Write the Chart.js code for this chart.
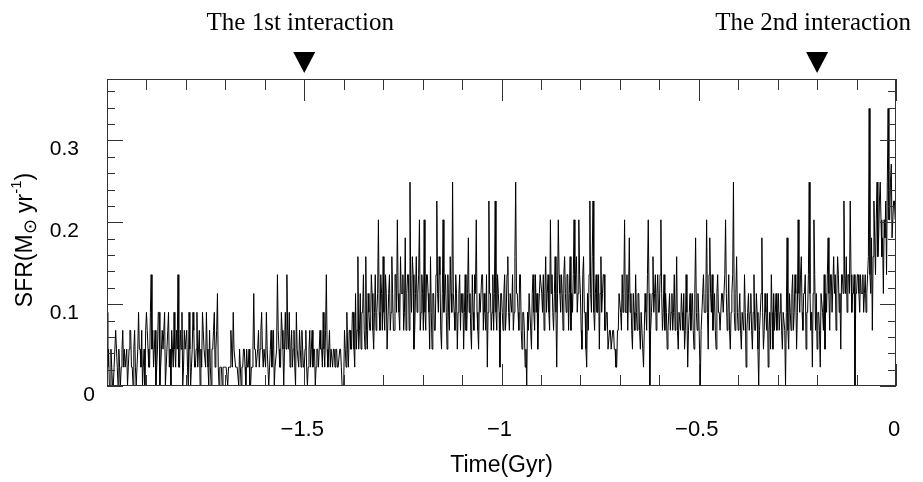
<!DOCTYPE html>
<html>
<head>
<meta charset="utf-8">
<script src="https://cdn.jsdelivr.net/npm/chart.js@4.4.1/dist/chart.umd.min.js"></script>
<style>
  html, body { margin: 0; padding: 0; background: #fff; }
</style>
</head>
<body>
<canvas id="sfr_chart" width="923" height="482"></canvas>
<script>
const timeStart = -2;
const timeEnd = 0;
const sfr = [
  .09,.023,.045,0,0,.045,.023,0,0,.023,.023,.068,.045,.023,0,.045,.023,0,.023,.045,.068,.023,.045,.023,.023,.045,0,.023,.045,.068,.068,.023,.023,0,.045,.068,.023,0,0,.045,.09,.045,.045,.023,.068,0,.023,.045,0,.068,
  .09,.068,.045,.023,.023,.09,.136,.045,.068,.023,.045,.068,0,.023,.045,.09,.09,0,.023,.045,.068,.045,.045,.09,0,.023,.023,.068,.09,.023,.045,0,.068,.045,.023,.09,.045,.023,.068,.045,.136,.023,.023,.068,.045,.09,0,.023,.068,.045,
  .045,.068,.023,0,.09,.045,0,.023,.045,.09,.068,.023,.023,.045,.09,.023,.045,.068,0,.045,.023,.09,.068,.045,.045,.023,.09,.045,.023,0,.068,.023,0,.045,.045,.068,.09,.023,.045,.068,.113,.023,0,.023,.023,.023,0,.023,.023,.023,
  .023,.023,.023,0,.023,.023,.023,.068,.045,.023,.09,.045,.045,.023,.023,.023,.023,0,.045,.023,0,.023,.023,.045,.045,.023,0,.045,.023,.023,.045,0,0,.023,.023,.045,.113,.045,.045,.023,.023,.045,.068,.023,.045,.068,.09,.045,.023,.045,
  .045,.023,.09,.045,.045,0,.023,.045,.068,.023,.045,.068,0,.023,.023,.045,.136,.068,.045,.023,.023,.09,.068,.045,0,.045,.09,.045,.136,.068,.045,.09,.023,.045,.068,.023,.045,.068,.023,0,.09,.045,.045,.023,.068,.045,.023,.068,.045,.023,
  .023,.045,.068,.023,0,.023,.045,.068,.023,.045,.068,.023,.045,.045,0,.023,.045,.045,.023,.045,.068,.045,.045,.023,.09,.045,.023,.068,.136,.045,.023,.045,.068,.023,.045,.045,.023,.045,.045,.023,.045,.045,.023,.023,.023,.045,.045,.023,0,0,
  0,.068,.045,.023,.09,.045,.023,.068,.068,.045,.045,.09,.09,.045,.023,.113,.045,.068,.158,.045,.068,.113,.045,.09,.09,.136,.068,.045,.158,.068,.045,.113,.09,.068,.068,.136,.113,.068,.045,.09,.136,.068,.09,.113,.203,.09,.068,.136,.113,.068,
  .158,.09,.068,.136,.113,.045,.045,.113,.136,.068,.09,.158,.113,.068,.068,.136,.136,.09,.203,.113,.09,.068,.158,.113,.113,.136,.068,.09,.181,.068,.113,.136,.136,.068,.249,.113,.09,.158,.136,.045,.068,.113,.158,.09,.113,.136,.203,.068,.09,.136,
  .113,.068,.203,.09,.068,.136,.136,.113,.09,.045,.158,.09,.045,.113,.113,.068,.068,.136,.226,.113,.09,.158,.136,.068,.045,.113,.203,.09,.113,.136,.09,.045,.136,.09,.068,.158,.113,.09,.249,.113,.09,.068,.136,.113,.045,.09,.113,.136,.068,.113,
  .09,.113,.045,.09,.136,.068,.068,.113,.181,.09,.113,.068,.045,.136,.09,.068,.136,.113,.203,.09,.068,.045,.113,.09,.09,.136,.136,.068,.113,.09,.068,.136,.023,.09,.226,.113,.113,.068,.09,.136,.068,.113,.226,.09,.068,.136,.113,.09,.023,.113,
  .113,.09,.068,.113,.136,.068,.09,.136,.158,.09,.068,.113,.113,.09,.136,.068,.09,.158,.249,.113,.113,.09,.068,.136,.136,.068,.045,.09,.09,.068,.023,.045,0,.09,.068,.113,.113,.068,.045,.113,.136,.09,.068,.136,.09,.113,.045,.09,.113,.136,
  .136,.113,.09,.136,.068,.113,.158,.09,.113,.136,.09,.068,.203,.113,.136,.09,.068,.113,.158,.09,.023,.113,.203,.136,.113,.09,.136,.113,.068,.136,.158,.113,.09,.136,.136,.068,.113,.158,.068,.113,.09,.136,.203,.113,.136,.158,.09,.113,.203,.136,
  .113,.068,.045,.136,.158,.09,.09,.045,.023,.113,.068,.136,.226,.113,.09,.158,.226,.09,.068,.113,.136,.09,.09,.136,.045,.113,.158,.09,.113,.136,.136,.068,.068,.09,.09,.045,.045,.068,.068,.045,.045,.068,.068,.045,.045,.023,.023,.068,.068,.113,
  .113,.09,.068,.136,.09,.113,.203,.09,.09,.136,.068,.113,.181,.09,.113,.068,.045,.113,.09,.068,.136,.09,.068,.113,.113,.068,.045,.09,.09,.045,.023,.068,.113,.09,.068,.136,.203,.113,0,.068,.09,.113,.158,.09,.113,.136,.068,.113,.136,.09,
  .09,.136,.203,.113,.068,.09,.136,.068,.113,.09,.045,.068,.09,.113,.068,.09,.113,.068,.09,.136,.068,.09,.158,.068,.045,.09,.09,.068,.113,.09,.068,.113,.045,.068,.136,.09,.023,.068,.09,.113,.068,.09,.113,.068,.045,.113,.181,.09,.068,.113,
  .09,.045,0,.068,.068,.113,.136,.09,.09,.113,.203,.09,.045,.136,.181,.113,.09,.136,.068,.09,.113,.068,.045,.113,.136,.09,.09,.068,.068,.113,.113,.09,.09,.136,.203,.113,.068,.09,.136,.068,.045,.09,.113,.136,.249,.09,.068,.113,.158,.09,
  .068,.09,.113,.068,.045,.09,.09,.068,.136,.09,.023,.068,.09,.113,.068,.09,.113,.068,.045,.09,.136,.068,.068,.113,.09,.045,0,.068,.09,.113,.181,.09,.045,.068,.113,.09,.068,.113,.023,.068,.09,.045,.136,.09,.045,.113,.068,.09,.113,.068,
  .09,.113,.068,.09,.113,.068,.045,.09,.09,.068,0,.09,.181,.068,.045,.113,.09,.068,.113,.136,.068,.09,.136,.113,.045,.09,.203,.113,.09,.136,.158,.09,.068,.113,.113,.136,.045,.09,.09,.136,.249,.113,.068,.09,.023,.113,.203,.136,.068,.113,
  .045,.09,.09,.068,.023,.113,.113,.09,.068,.136,.045,.113,.09,.136,.181,.113,.068,.136,.136,.09,.09,.158,.113,.136,.068,.113,.158,.136,.09,.113,.045,.136,.136,.113,.226,.136,.113,.158,.09,.136,.136,.113,.226,.136,.09,.113,.113,.136,0,.113,
  .113,.136,.136,.113,.09,.136,.113,.113,.136,.09,.113,.136,.09,.113,.136,.158,.339,.136,.113,.181,.068,.158,.226,.181,.136,.203,.249,.158,.181,.226,.249,.203,.158,.181,.113,.203,.181,.226,.136,.249,.339,.203,.203,.249,.271,.181,.181,.226,.226,.203,
  .203
];
const xTickLabels = [-1.5, -1, -0.5, 0];
const yTickLabels = [0, 0.1, 0.2, 0.3];
const interactionTimes = [-1.5, -0.2];
const interactionNames = ["The 1st interaction", "The 2nd interaction"];

const sansFont = '"Liberation Sans", Arial, Helvetica, sans-serif';
const serifFont = '"Liberation Serif", "Times New Roman", serif';

// frame with inward ticks on all four sides, labels and the interaction markers
const frameAxes = {
    id: 'frameAxes',
    afterDraw(chart) {
        const { ctx, chartArea: a, scales: { x, y } } = chart;
        const seg = (x1, y1, x2, y2) => {
            ctx.beginPath();
            ctx.moveTo(x1, y1);
            ctx.lineTo(x2, y2);
            ctx.stroke();
        };
        ctx.save();
        ctx.strokeStyle = '#333';
        ctx.lineWidth = 1;
        ctx.strokeRect(a.left + 0.5, a.top + 0.5, a.right - a.left - 1, a.bottom - a.top - 1);

        for (let i = 0; i <= 20; i++) {
            const px = Math.round(x.getPixelForValue(-2 + i * 0.1)) + 0.5;
            const len = i % 5 === 0 ? 22 : 11;
            seg(px, a.bottom, px, a.bottom - len);
            seg(px, a.top, px, a.top + len);
        }
        for (let i = 0; i <= 18; i++) {
            const py = Math.round(y.getPixelForValue(i * 0.02)) + 0.5;
            const len = i % 5 === 0 ? 16 : 8;
            seg(a.left, py, a.left + len, py);
            seg(a.right, py, a.right - len, py);
        }

        ctx.fillStyle = '#000';
        ctx.font = '21px ' + sansFont;
        ctx.textBaseline = 'middle';
        ctx.textAlign = 'right';
        yTickLabels.forEach(v => {
            const py = y.getPixelForValue(v) + 9;
            ctx.fillText(String(v), v === 0 ? 95 : 79, py);
        });
        ctx.font = '22px ' + sansFont;
        ctx.textAlign = 'center';
        xTickLabels.forEach(v => {
            const label = String(v).replace('-', '\u2212');
            ctx.fillText(label, x.getPixelForValue(v) - 2, 430);
        });
        ctx.font = '23px ' + sansFont;
        ctx.fillText('Time(Gyr)', (a.left + a.right) / 2, 466);

        // rotated y title: SFR(M⊙ yr⁻¹)
        ctx.save();
        ctx.translate(26, 240);
        ctx.rotate(-Math.PI / 2);
        const parts = [
            { t: 'SFR(M', size: 23, dy: 0 },
            { t: '\u2299', size: 18, dy: 5 },
            { t: ' yr', size: 23, dy: 0 },
            { t: '-1', size: 15, dy: -9 },
            { t: ')', size: 23, dy: 0 }
        ];
        let total = 0;
        parts.forEach(p => {
            ctx.font = p.size + 'px ' + sansFont;
            p.w = ctx.measureText(p.t).width;
            total += p.w;
        });
        let cx = -total / 2;
        ctx.textAlign = 'left';
        parts.forEach(p => {
            ctx.font = p.size + 'px ' + sansFont;
            ctx.fillText(p.t, cx, p.dy);
            cx += p.w;
        });
        ctx.restore();

        ctx.font = '25px ' + serifFont;
        ctx.textAlign = 'center';
        ctx.textBaseline = 'alphabetic';
        interactionTimes.forEach((t, i) => {
            const px = x.getPixelForValue(t);
            ctx.fillText(interactionNames[i], px - 4, 30);
            ctx.beginPath();
            ctx.moveTo(px - 11, 52);
            ctx.lineTo(px + 11, 52);
            ctx.lineTo(px, 73);
            ctx.closePath();
            ctx.fill();
        });
        ctx.restore();
    }
};

const timeStep = (timeEnd - timeStart) / (sfr.length - 1);
const points = sfr.map((v, i) => ({ x: timeStart + i * timeStep, y: v }));

new Chart(document.getElementById('sfr_chart'), {
    type: 'line',
    data: {
        datasets: [{
            label: 'SFR',
            data: points,
            borderColor: '#000',
            borderWidth: 1,
            pointRadius: 0,
            tension: 0,
            fill: false
        }]
    },
    options: {
        responsive: false,
        animation: false,
        layout: { padding: { left: 107, right: 27, top: 79, bottom: 96 } },
        plugins: {
            legend: { display: false },
            tooltip: { enabled: false }
        },
        scales: {
            x: { type: 'linear', min: timeStart, max: timeEnd, display: false },
            y: { type: 'linear', min: 0, max: 0.375, display: false }
        }
    },
    plugins: [frameAxes]
});
</script>
</body>
</html>
